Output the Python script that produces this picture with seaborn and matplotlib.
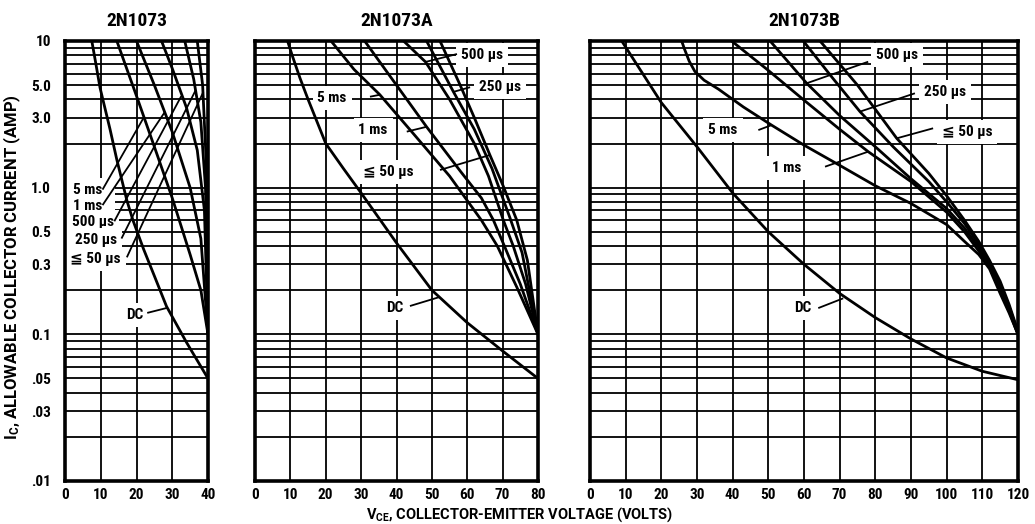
import numpy as np
import pandas as pd
import matplotlib
matplotlib.use("Agg")
import matplotlib.pyplot as plt
import seaborn as sns
from matplotlib.patches import Rectangle
from matplotlib.ticker import FixedLocator, FixedFormatter, NullLocator

sns.set_theme(style="white")
FONT = ['Roboto Condensed', 'Noto Sans Condensed', 'Liberation Sans Narrow', 'Roboto', 'DejaVu Sans']
WIDE = ['Roboto', 'DejaVu Sans']
plt.rcParams['font.family'] = FONT
plt.rcParams['font.weight'] = 'bold'
plt.rcParams['mathtext.default'] = 'regular'
plt.rcParams['text.color'] = 'black'
plt.rcParams['axes.labelcolor'] = 'black'
plt.rcParams['xtick.color'] = 'black'
plt.rcParams['ytick.color'] = 'black'

# ---------------- data: safe operating areas (V_CE in volts, I_C in amps) ----------------
titles = ["2N1073", "2N1073A", "2N1073B"]
vmax = [40, 80, 120]

# 2N1073
a_dc_v = [7.5, 8.5, 9.8, 12.6, 14.5, 17.3, 19, 22, 25, 28.4, 34, 40]
a_dc_i = [10, 7.3, 4.8, 2.5, 1.55, 0.82, 0.6, 0.38, 0.25, 0.155, 0.088, 0.05]
a_5ms_v = [14.5, 20.5, 25, 30, 35, 38, 40]
a_5ms_i = [10, 3.9, 1.9, 0.85, 0.35, 0.2, 0.1]
a_1ms_v = [20, 25, 30, 35, 38, 40]
a_1ms_i = [10, 5.0, 2.4, 1.0, 0.45, 0.1]
a_500_v = [27, 30, 34, 37, 39, 40]
a_500_i = [10, 6.5, 3.5, 1.8, 0.7, 0.1]
a_250_v = [33.5, 36, 38, 39.3, 40]
a_250_i = [10, 5.5, 2.8, 1.0, 0.1]
a_50_v = [37, 38.5, 39.5, 40]
a_50_i = [10, 5.0, 1.5, 0.1]

# 2N1073A
b_dc_v = [9.2, 10.5, 12.7, 15, 20, 25, 30, 40, 50, 60, 70, 80]
b_dc_i = [10, 8.0, 5.6, 4.0, 2.0, 1.35, 0.92, 0.42, 0.2, 0.12, 0.077, 0.05]
b_5ms_v = [21.5, 28, 35.3, 45, 55, 64, 68.5, 74, 80]
b_5ms_i = [10, 6.4, 4.3, 2.3, 1.2, 0.6, 0.4, 0.21, 0.1]
b_1ms_v = [31, 40, 48.5, 58, 64, 67.4, 70.5, 75, 80]
b_1ms_i = [10, 5.0, 2.6, 1.3, 0.85, 0.6, 0.4, 0.22, 0.1]
b_500_v = [42, 48.2, 55, 62, 66, 70.2, 73, 76.5, 80]
b_500_i = [10, 7.2, 4.0, 2.0, 1.2, 0.6, 0.4, 0.22, 0.1]
b_250_v = [48.5, 56.1, 62, 67, 72.1, 75.5, 80]
b_250_i = [10, 4.5, 2.5, 1.35, 0.62, 0.36, 0.1]
b_50_v = [52.3, 58, 62, 66.4, 70, 74, 77, 80]
b_50_i = [10, 5.0, 3.0, 1.67, 1.05, 0.6, 0.32, 0.1]

# 2N1073B
c_dc_v = [8.9, 20, 30, 40, 50, 60, 70, 80, 90, 100, 110, 120]
c_dc_i = [10, 3.8, 1.9, 0.92, 0.5, 0.3, 0.19, 0.13, 0.093, 0.069, 0.056, 0.049]
c_5ms_v = [25.7, 26.5, 27.8, 29.4, 32, 36, 43, 50.9, 60, 70, 80, 90, 100, 105, 109, 112, 115, 117.5, 119.3, 120]
c_5ms_i = [10, 8.8, 7.3, 6.2, 5.4, 4.7, 3.55, 2.67, 1.95, 1.42, 1.03, 0.78, 0.56, 0.43, 0.35, 0.28, 0.19, 0.14, 0.11, 0.1]
c_1ms_v = [39.7, 50, 60, 70, 78, 90, 100, 105, 109, 112, 115, 117.5, 119.3, 120]
c_1ms_i = [10, 6.3, 3.95, 2.5, 1.76, 1.1, 0.68, 0.5, 0.37, 0.29, 0.2, 0.145, 0.11, 0.1]
c_500_v = [50.5, 60.75, 70, 80, 90, 100, 105, 109, 112, 115, 117.5, 119.3, 120]
c_500_i = [10, 5.15, 3.1, 1.9, 1.15, 0.72, 0.53, 0.39, 0.3, 0.21, 0.15, 0.112, 0.1]
c_250_v = [59.8, 68, 75.7, 85, 95, 100, 105, 109, 112, 115, 117.5, 119.3, 120]
c_250_i = [10, 5.6, 3.3, 1.9, 1.1, 0.8, 0.57, 0.41, 0.31, 0.22, 0.155, 0.115, 0.1]
c_50_v = [64.5, 75, 86, 95, 100, 105, 109, 112, 115, 117.5, 119.3, 120]
c_50_i = [10, 5.0, 2.17, 1.25, 0.88, 0.6, 0.43, 0.32, 0.23, 0.16, 0.118, 0.1]

ytick_vals = [0.01, 0.03, 0.05, 0.1, 0.3, 0.5, 1.0, 3.0, 5.0, 10]
ytick_text = [".01", ".03", ".05", "0.1", "0.3", "0.5", "1.0", "3.0", "5.0", "10"]

panels = [
    {"DC": (a_dc_v, a_dc_i), "5 ms": (a_5ms_v, a_5ms_i), "1 ms": (a_1ms_v, a_1ms_i),
     "500 µs": (a_500_v, a_500_i), "250 µs": (a_250_v, a_250_i), "≦ 50 µs": (a_50_v, a_50_i)},
    {"DC": (b_dc_v, b_dc_i), "5 ms": (b_5ms_v, b_5ms_i), "1 ms": (b_1ms_v, b_1ms_i),
     "500 µs": (b_500_v, b_500_i), "250 µs": (b_250_v, b_250_i), "≦ 50 µs": (b_50_v, b_50_i)},
    {"DC": (c_dc_v, c_dc_i), "5 ms": (c_5ms_v, c_5ms_i), "1 ms": (c_1ms_v, c_1ms_i),
     "500 µs": (c_500_v, c_500_i), "250 µs": (c_250_v, c_250_i), "≦ 50 µs": (c_50_v, c_50_i)},
]

# ---------------- figure ----------------
W, H = 1035, 524
fig = plt.figure(figsize=(W / 100, H / 100), dpi=100)
fig.patch.set_facecolor("white")

px_left = [65, 255, 590]
px_right = [208, 538, 1018]
px_top, px_bottom = 41, 481

GRID_LW = 1.3
CURVE_LW = 2.0
LEAD_LW = 1.3

axes = []
for k in range(3):
    ax = fig.add_axes([px_left[k] / W, 1 - px_bottom / H,
                       (px_right[k] - px_left[k]) / W, (px_bottom - px_top) / H])
    ax.set_yscale("log")
    ax.set_xlim(0, vmax[k])
    ax.set_ylim(0.01, 10)
    ax.set_facecolor("white")

    # log grid: every 1..9 step of each decade, plus 10-volt verticals
    for dec in (0.01, 0.1, 1.0):
        for m in range(1, 10):
            ax.axhline(dec * m, color="black", lw=GRID_LW, zorder=1)
    for xv in range(10, vmax[k], 10):
        ax.axvline(xv, color="black", lw=GRID_LW, zorder=1)

    for s in ax.spines.values():
        s.set_visible(True)
        s.set_color("black")
        s.set_linewidth(2.6)
        s.set_zorder(6)

    ax.set_xticks(np.arange(0, vmax[k] + 1, 10))
    ax.set_xticklabels([str(v) for v in range(0, vmax[k] + 1, 10)])
    ax.xaxis.set_minor_locator(NullLocator())
    ax.yaxis.set_minor_locator(NullLocator())
    ax.yaxis.set_major_locator(FixedLocator(ytick_vals))
    if k == 0:
        ax.yaxis.set_major_formatter(FixedFormatter(ytick_text))
    else:
        ax.set_yticklabels([])
    ax.tick_params(axis="both", length=0, labelsize=11, colors="black")
    ax.tick_params(axis="x", pad=5)
    ax.tick_params(axis="y", pad=10)
    for lab in ax.get_xticklabels() + ax.get_yticklabels():
        lab.set_family(FONT)
        lab.set_fontweight("bold")

    ax.set_title(titles[k], fontsize=14, fontweight="bold", family=FONT, pad=11, color="black")

    # curves
    for name, (vv, ii) in panels[k].items():
        df = pd.DataFrame({"v": vv, "i": ii})
        sns.lineplot(data=df, x="v", y="i", ax=ax, color="black", lw=CURVE_LW,
                     sort=False, estimator=None, zorder=5)
    ax.set_xlabel("")
    ax.set_ylabel("")
    axes.append(ax)

box = dict(facecolor="white", edgecolor="none", pad=3.5)


def label(ax, x, y, s, ha="center"):
    ax.text(x, y, s, ha=ha, va="center", fontsize=11, fontweight="bold",
            family=FONT, bbox=box, zorder=4, color="black")


def leader(ax, p0, p1):
    ax.plot([p0[0], p1[0]], [p0[1], p1[1]], color="black", lw=LEAD_LW, zorder=5,
            solid_capstyle="butt")


# 2N1073 annotations: a white block holds the stacked pulse labels
ax = axes[0]
ax.add_patch(Rectangle((0.4, 0.285), 13.6, 1.13 - 0.285, facecolor="white",
                       edgecolor="none", zorder=2))
label(ax, 2.2, 0.965, "5 ms", ha="left")
label(ax, 2.2, 0.75, "1 ms", ha="left")
label(ax, 2.0, 0.58, "500 µs", ha="left")
label(ax, 2.8, 0.44, "250 µs", ha="left")
label(ax, 1.4, 0.327, "≦ 50 µs", ha="left")
label(ax, 19.6, 0.136, "DC")
leader(ax, (10.5, 0.97), (22.0, 3.0))
leader(ax, (10.5, 0.76), (28.0, 3.3))
leader(ax, (13.8, 0.59), (32.5, 4.2))
leader(ax, (15.8, 0.45), (36.5, 4.6))
leader(ax, (17.3, 0.335), (38.7, 4.5))
leader(ax, (23.0, 0.14), (28.8, 0.152))

# 2N1073A annotations
ax = axes[1]
label(ax, 64.2, 8.03, "500 µs")
label(ax, 69.3, 4.86, "250 µs")
label(ax, 21.8, 4.09, "5 ms")
label(ax, 33.4, 2.47, "1 ms")
label(ax, 37.6, 1.28, "≦ 50 µs")
label(ax, 39.6, 0.151, "DC")
leader(ax, (57.1, 8.15), (48.2, 7.2))
leader(ax, (60.8, 4.84), (56.1, 4.5))
leader(ax, (32.5, 4.17), (35.3, 4.3))
leader(ax, (42.9, 2.41), (48.5, 2.6))
leader(ax, (52.3, 1.32), (66.4, 1.67))
leader(ax, (43.8, 0.156), (52.3, 0.18))

# 2N1073B annotations
ax = axes[2]
label(ax, 86.1, 8.03, "500 µs")
label(ax, 99.5, 4.49, "250 µs")
label(ax, 105.7, 2.4, "≦ 50 µs")
label(ax, 37.3, 2.47, "5 ms")
label(ax, 55.2, 1.36, "1 ms")
label(ax, 59.7, 0.151, "DC")
leader(ax, (78.0, 7.22), (60.75, 5.15))
leader(ax, (91.1, 4.4), (75.7, 3.3))
leader(ax, (96.2, 2.54), (86.0, 2.17))
leader(ax, (47.2, 2.47), (50.9, 2.67))
leader(ax, (65.9, 1.39), (78.0, 1.76))
leader(ax, (64.0, 0.151), (71.0, 0.176))

# shared axis titles
fig.text(520 / W, 1 - 515 / H, r"V$_{CE}$, COLLECTOR-EMITTER VOLTAGE (VOLTS)",
         ha="center", va="center", fontsize=10.5, fontweight="bold", family=WIDE)
fig.text(12 / W, 1 - 267 / H, r"I$_C$, ALLOWABLE COLLECTOR CURRENT (AMP)",
         ha="center", va="center", rotation=90, fontsize=12, fontweight="bold", family=WIDE)

fig.savefig("out.png", dpi=100, facecolor="white")
